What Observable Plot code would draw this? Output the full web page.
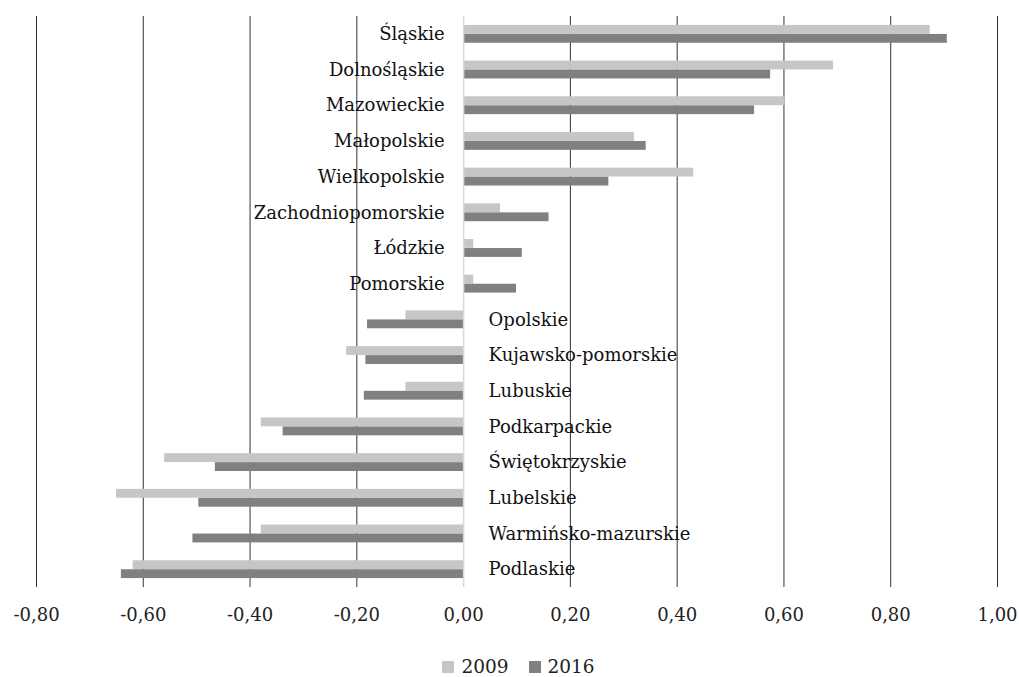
<!DOCTYPE html>
<html>
<head>
<meta charset="utf-8">
<script src="https://cdn.jsdelivr.net/npm/d3@7"></script>
<script src="https://cdn.jsdelivr.net/npm/@observablehq/plot@0.6"></script>
<style>
  html, body { margin: 0; padding: 0; background: #fff; }
  #chart { width: 1019px; }
  .legend { display: flex; justify-content: center; align-items: center; height: 22px; line-height: 22px;
    font-family: "DejaVu Serif", serif; font-size: 18.5px; color: #222; margin-top: 16px; padding-left: 18px; }
  .legend .sw { display: inline-block; width: 12px; height: 12px; margin-right: 7px; }
  .legend .item { display: flex; align-items: center; margin: 0 10px; }
</style>
</head>
<body>
<div id="chart"></div>
<script>
const regions = ["Śląskie","Dolnośląskie","Mazowieckie","Małopolskie","Wielkopolskie","Zachodniopomorskie","Łódzkie","Pomorskie","Opolskie","Kujawsko-pomorskie","Lubuskie","Podkarpackie","Świętokrzyskie","Lubelskie","Warmińsko-mazurskie","Podlaskie"];
const values2009 = [0.874, 0.693, 0.602, 0.320, 0.431, 0.069, 0.019, 0.019, -0.108, -0.219, -0.108, -0.379, -0.560, -0.650, -0.379, -0.619];
const values2016 = [0.906, 0.575, 0.545, 0.342, 0.272, 0.160, 0.110, 0.099, -0.180, -0.183, -0.186, -0.338, -0.465, -0.496, -0.507, -0.641];
const seriesNames = ["2009", "2016"];
const seriesColors = ["#c6c6c6", "#808080"];
const xTicks = [-0.8, -0.6, -0.4, -0.2, 0, 0.2, 0.4, 0.6, 0.8, 1.0];

const rows = regions.map((r, i) => ({region: r, v2009: values2009[i], v2016: values2016[i]}));
const fmt = d => d.toFixed(2).replace(".", ",");
const font = "DejaVu Serif";

const chart = Plot.plot({
  width: 1019,
  height: 640,
  marginTop: 16,
  marginBottom: 53,
  marginLeft: 36,
  marginRight: 22,
  style: {fontFamily: font, fontSize: "18px", color: "#222", background: "#fff"},
  x: {domain: [-0.8, 1.0], ticks: xTicks, tickFormat: fmt, tickSize: 0, tickPadding: 21, label: null},
  y: {domain: regions, paddingInner: 0.5, paddingOuter: 0.25, round: false, axis: null},
  marks: [
    Plot.ruleX(xTicks.filter(d => d !== 0), {stroke: "#333", strokeWidth: 1}),
    Plot.barX(rows, {x: "v2009", y: "region", fill: seriesColors[0], insetBottom: 9}),
    Plot.barX(rows, {x: "v2016", y: "region", fill: seriesColors[1], insetTop: 9}),
    Plot.ruleX([0], {stroke: "#d9d9d9", strokeWidth: 1.5}),
    Plot.text(rows.filter(d => d.v2016 >= 0), {x: () => 0, y: "region", text: "region", textAnchor: "end", dx: -19, fontSize: 18, fill: "#111"}),
    Plot.text(rows.filter(d => d.v2016 < 0), {x: () => 0, y: "region", text: "region", textAnchor: "start", dx: 25, fontSize: 18, fill: "#111"})
  ]
});
document.getElementById("chart").appendChild(chart);

const legend = document.createElement("div");
legend.className = "legend";
seriesNames.forEach((s, i) => {
  const item = document.createElement("span");
  item.className = "item";
  const sw = document.createElement("span");
  sw.className = "sw";
  sw.style.background = seriesColors[i];
  item.appendChild(sw);
  item.appendChild(document.createTextNode(s));
  legend.appendChild(item);
});
document.getElementById("chart").appendChild(legend);
</script>
</body>
</html>
